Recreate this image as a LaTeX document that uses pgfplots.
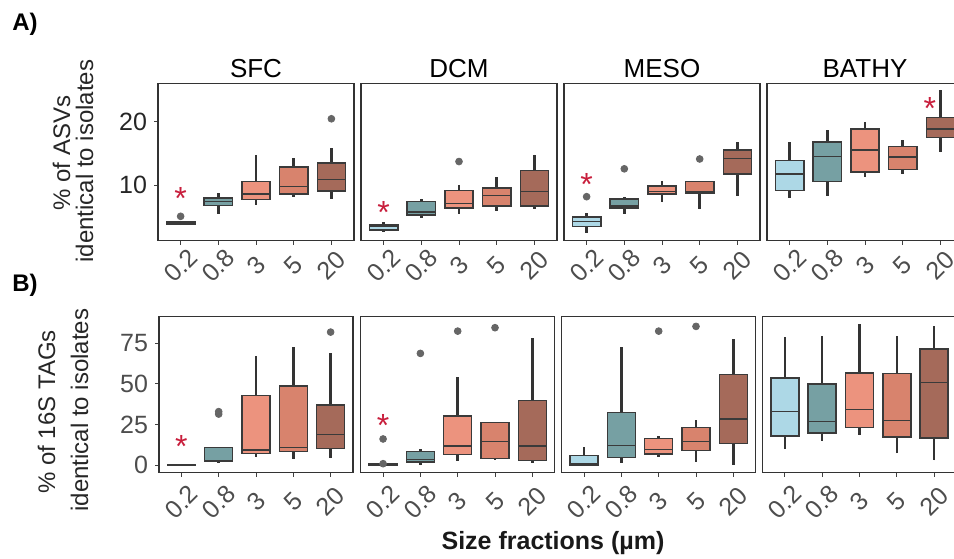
\documentclass[border=0pt]{standalone}
\usepackage{pgfplots}
\pgfplotsset{compat=1.18}
\usepgfplotslibrary{statistics}
\usepackage{fontspec}
\setmainfont{Liberation Sans}

\definecolor{c02}{HTML}{ADD8E6}
\definecolor{c08}{HTML}{76A0A3}
\definecolor{c3}{HTML}{EC937E}
\definecolor{c5}{HTML}{D8836D}
\definecolor{c20}{HTML}{A56A5A}
\definecolor{boxline}{HTML}{3A3A3A}
\definecolor{whisk}{HTML}{333333}
\definecolor{outgray}{HTML}{666666}
\definecolor{tickgray}{HTML}{4D4D4D}
\definecolor{starred}{HTML}{C81E3C}

\pgfplotsset{
  panel/.style={
    scale only axis, anchor=south west, clip=false,
    xmin=0.4, xmax=5.6, xtick={1,2,3,4,5}, xticklabels={0.2,0.8,3,5,20},
    tick pos=left, tick align=outside, major tick length=2pt,
    tick style={draw=black!75, line width=0.5pt},
    axis line style={draw=black!80, line width=0.7pt},
    yticklabel style={font=\fontsize{12.5}{14}\selectfont},
    /pgf/number format/assume math mode=true,
    boxplot/draw direction=y,
    boxplot/box extend=0.75, boxplot/whisker extend=0,
    boxplot/every box/.style={line width=0.75pt},
    boxplot/every whisker/.style={line width=1.3pt, draw=whisk},
    boxplot/every median/.style={line width=0.75pt},
  },
  rowA/.style={panel, width=98pt, height=78.6pt, ymin=1.28, ymax=26.1,
    ytick={10,20}, yticklabel style={text=black!85},
    xticklabel style={yshift=-10.5pt, rotate=45, anchor=center, text=tickgray,
      font=\fontsize{12.5}{14}\selectfont}},
  rowB/.style={panel, width=97pt, height=78pt, ymin=-4.55, ymax=91.35,
    ytick={0,25,50,75}, yticklabel style={text=tickgray},
    xticklabel style={yshift=-12.5pt, rotate=45, anchor=center, text=tickgray,
      font=\fontsize{12.5}{14}\selectfont}},
  noy/.style={ytick=\empty},
}
\tikzset{
  sig/.style={font=\fontsize{16}{16}\selectfont, text=starred, anchor=base,
    inner sep=0pt, yshift=-9pt},
  ttl/.style={font=\fontsize{13}{15}\selectfont, anchor=base},
  ylab/.style={font=\fontsize{12}{14}\selectfont, rotate=90, anchor=base, text=black!85},
}

% position, lower whisker, lower quartile, median, upper quartile, upper whisker, fill, outliers
\newcommand{\bx}[8]{%
  \addplot[boxplot prepared={draw position=#1, lower whisker=#2,
    lower quartile=#3, median=#4, upper quartile=#5, upper whisker=#6},
    fill=#7, draw=boxline, mark=*, mark size=1.7pt,
    mark options={draw=outgray, fill=outgray}] coordinates {#8};}

\begin{document}
\begin{tikzpicture}

% ---------- A) % of ASVs ----------
\begin{axis}[rowA, at={(79pt,-120.25pt)}]
\bx{1}{3.7}{3.85}{4.05}{4.3}{4.35}{c08}{(1,5.1)}
\bx{2}{5.5}{6.8}{7.4}{8.0}{8.8}{c08}{}
\bx{3}{6.85}{7.75}{8.6}{10.6}{14.8}{c3}{}
\bx{4}{8.2}{8.65}{9.8}{12.9}{14.3}{c5}{}
\bx{5}{7.85}{9.1}{10.9}{13.5}{15.9}{c20}{(5,20.5)}
\node[sig] at (axis cs:1,9.0) {*};
\end{axis}

\begin{axis}[rowA, noy, at={(180.5pt,-120.25pt)}]
\bx{1}{2.65}{2.9}{3.55}{3.8}{4.2}{c02}{}
\bx{2}{4.85}{5.3}{5.8}{7.4}{7.9}{c08}{}
\bx{3}{5.45}{6.4}{7.15}{9.2}{10.1}{c3}{(3,13.75)}
\bx{4}{5.9}{6.7}{8.35}{9.55}{11.3}{c5}{}
\bx{5}{6.3}{6.7}{9.0}{12.3}{14.85}{c20}{}
\node[sig] at (axis cs:1,6.85) {*};
\end{axis}

\begin{axis}[rowA, noy, at={(282pt,-120.25pt)}]
\bx{1}{2.5}{3.5}{4.25}{5.0}{5.65}{c02}{(1,8.2)}
\bx{2}{5.5}{6.45}{6.7}{7.85}{8.2}{c08}{(2,12.6)}
\bx{3}{7.3}{8.65}{9.0}{9.9}{10.75}{c3}{}
\bx{4}{6.2}{8.75}{8.9}{10.6}{10.6}{c5}{(4,14.15)}
\bx{5}{8.3}{11.8}{14.25}{15.6}{16.85}{c20}{}
\node[sig] at (axis cs:1,11.3) {*};
\end{axis}

\begin{axis}[rowA, noy, at={(383.5pt,-120.25pt)}]
\bx{1}{8.0}{9.2}{11.75}{13.9}{16.85}{c02}{}
\bx{2}{8.3}{10.6}{14.55}{16.8}{18.75}{c08}{}
\bx{3}{11.25}{12.1}{15.6}{18.9}{20.0}{c3}{}
\bx{4}{11.75}{12.5}{14.5}{16.1}{17.15}{c5}{}
\bx{5}{15.2}{17.55}{18.85}{20.7}{25.05}{c20}{}
\node[sig] at (axis cs:4.72,23.25) {*};
\end{axis}

% ---------- B) % of 16S TAGs ----------
\begin{axis}[rowB, at={(79.5pt,-236.35pt)}]
\bx{1}{0}{0.05}{0.3}{0.6}{0.9}{c08}{}
\bx{2}{1.6}{2.5}{2.8}{11.05}{11.05}{c08}{(2,31.5) (2,33)}
\bx{3}{4.9}{7.4}{9.4}{42.8}{67.2}{c3}{}
\bx{4}{3.7}{8.6}{11.1}{48.9}{72.7}{c5}{}
\bx{5}{4.3}{10.2}{19.05}{37.05}{69.0}{c20}{(5,81.9)}
\node[sig] at (axis cs:1,16.0) {*};
\end{axis}

\begin{axis}[rowB, noy, at={(180.35pt,-236.35pt)}]
\bx{1}{0}{0}{0.3}{0.7}{0.7}{c08}{(1,1.0) (1,16.2)}
\bx{2}{0}{2.0}{3.7}{8.6}{9.8}{c08}{(2,68.8)}
\bx{3}{2.8}{6.5}{11.9}{30.3}{54.1}{c3}{(3,82.5)}
\bx{4}{4.0}{4.1}{14.7}{26.2}{26.2}{c5}{(4,84.6)}
\bx{5}{1.6}{3.1}{11.9}{39.7}{78.0}{c20}{}
\node[sig] at (axis cs:1,28.9) {*};
\end{axis}

\begin{axis}[rowB, noy, at={(280.85pt,-236.35pt)}]
\bx{1}{0}{0.2}{1.0}{5.9}{11.4}{c02}{}
\bx{2}{1.6}{4.9}{12.05}{32.6}{72.7}{c08}{}
\bx{3}{5.3}{7.1}{9.8}{16.6}{17.8}{c3}{(3,82.5)}
\bx{4}{2.2}{9.0}{14.7}{23.1}{27.8}{c5}{(4,85.4)}
\bx{5}{0.4}{13.5}{28.5}{55.7}{77.6}{c20}{}
\end{axis}

\begin{axis}[rowB, noy, at={(381.25pt,-236.35pt)}]
\bx{1}{9.8}{18.0}{33.2}{53.7}{78.7}{c02}{}
\bx{2}{14.7}{19.85}{26.8}{50.0}{79.5}{c08}{}
\bx{3}{18.4}{23.35}{34.2}{56.9}{86.7}{c3}{}
\bx{4}{7.4}{17.4}{27.4}{56.5}{79.5}{c5}{}
\bx{5}{3.1}{16.8}{51.0}{71.5}{85.6}{c20}{}
\end{axis}

% ---------- texts ----------
\node[ttl] at (128pt,-38.5pt) {SFC};
\node[ttl] at (229.5pt,-38.5pt) {DCM};
\node[ttl] at (331pt,-38.5pt) {MESO};
\node[ttl] at (432.5pt,-38.5pt) {BATHY};

\node[font=\fontsize{12}{14}\selectfont\bfseries, anchor=base west, inner sep=0pt] at (6pt,-15pt) {A)};
\node[font=\fontsize{12}{14}\selectfont\bfseries, anchor=base west, inner sep=0pt] at (6pt,-145.5pt) {B)};

\node[ylab] at (35pt,-76.5pt) {\% of ASVs};
\node[ylab] at (46.6pt,-80.5pt) {identical to isolates};
\node[ylab] at (27.5pt,-206pt) {\% of 16S TAGs};
\node[ylab] at (44pt,-205pt) {identical to isolates};

\node[font=\fontsize{12.5}{14}\selectfont\bfseries, anchor=base, text=black!90] at (276.5pt,-274.5pt) {Size fractions (µm)};

\pgfresetboundingbox
\useasboundingbox (0,0) rectangle (477pt,-279pt);
\end{tikzpicture}
\end{document}
